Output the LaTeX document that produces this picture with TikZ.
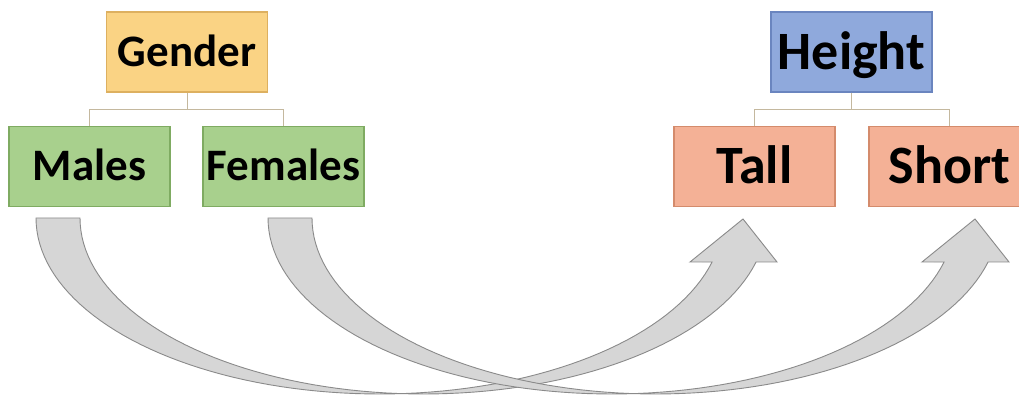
\documentclass[tikz,border=0pt]{standalone}
\usepackage{fontspec}
\setmainfont{Carlito}

\definecolor{gfill}{HTML}{FAD384}
\definecolor{gline}{HTML}{DDB060}
\definecolor{mfill}{HTML}{A8D08D}
\definecolor{mline}{HTML}{7FAB62}
\definecolor{hfill}{HTML}{8FA9DC}
\definecolor{hline}{HTML}{6A85BF}
\definecolor{tfill}{HTML}{F4B196}
\definecolor{tline}{HTML}{D48B6C}
\definecolor{orgcol}{HTML}{C4B89E}
\definecolor{arrfill}{HTML}{D6D6D6}
\definecolor{arrline}{HTML}{8A8A8A}

\begin{document}
\begin{tikzpicture}[x=1pt,y=1pt,
  box/.style={minimum width=161pt, minimum height=80pt, inner sep=0pt,
    line width=1.3pt, text depth=0pt},
  smalltext/.style={font=\fontsize{45}{49}\selectfont\bfseries, text height=29pt},
  bigtext/.style={font=\fontsize{54}{59}\selectfont\bfseries, text height=34.8pt},
  genderbox/.style={box, smalltext, fill=gfill, draw=gline},
  greenbox/.style={box, smalltext, fill=mfill, draw=mline},
  heightbox/.style={box, bigtext, fill=hfill, draw=hline},
  redbox/.style={box, bigtext, fill=tfill, draw=tline},
  orgline/.style={draw=orgcol, line width=1pt},
  arrowband/.style={fill=arrfill, draw=arrline, line width=0.9pt, line join=miter},
  % curved block arrow: two equal ellipses offset by the shaft width
  bentarrow/.pic={
    \filldraw[arrowband]
      plot[domain=180:345.52, samples=80] ({343.5+343.5*cos(\x)}, {176*sin(\x)})
      -- (654,-44) -- (707,-1) -- (741,-44)
      -- plot[domain=345.52:180, samples=80] ({387.5+343.5*cos(\x)}, {176*sin(\x)})
      -- cycle;
  }
]
\useasboundingbox (0,0) rectangle (1019,401);
\clip (0,0) rectangle (1019,401);

% left hierarchy
\node[genderbox] (gender)  at (187,349)     {Gender};
\node[greenbox]  (males)   at (89.5,234.5)  {Males};
\node[greenbox]  (females) at (283.5,234.5) {Females};

% right hierarchy
\node[heightbox] (height) at (851.5,349)   {Height};
\node[redbox]    (tall)   at (754.5,234.5) {Tall};
\node[redbox]    (short)  at (949.5,234.5) {Short};

% org-chart connectors
\draw[orgline] (gender.south) -- ++(0,-17) -| (males.north);
\draw[orgline] (gender.south) -- ++(0,-17) -| (females.north);
\draw[orgline] (height.south) -- ++(0,-17) -| (tall.north);
\draw[orgline] (height.south) -- ++(0,-17) -| (short.north);

% curved block arrows
\coordinate (tailM) at (36,183);
\coordinate (tailF) at (268,183);
\pic at (tailM) {bentarrow};
\pic at (tailF) {bentarrow};
\end{tikzpicture}
\end{document}
